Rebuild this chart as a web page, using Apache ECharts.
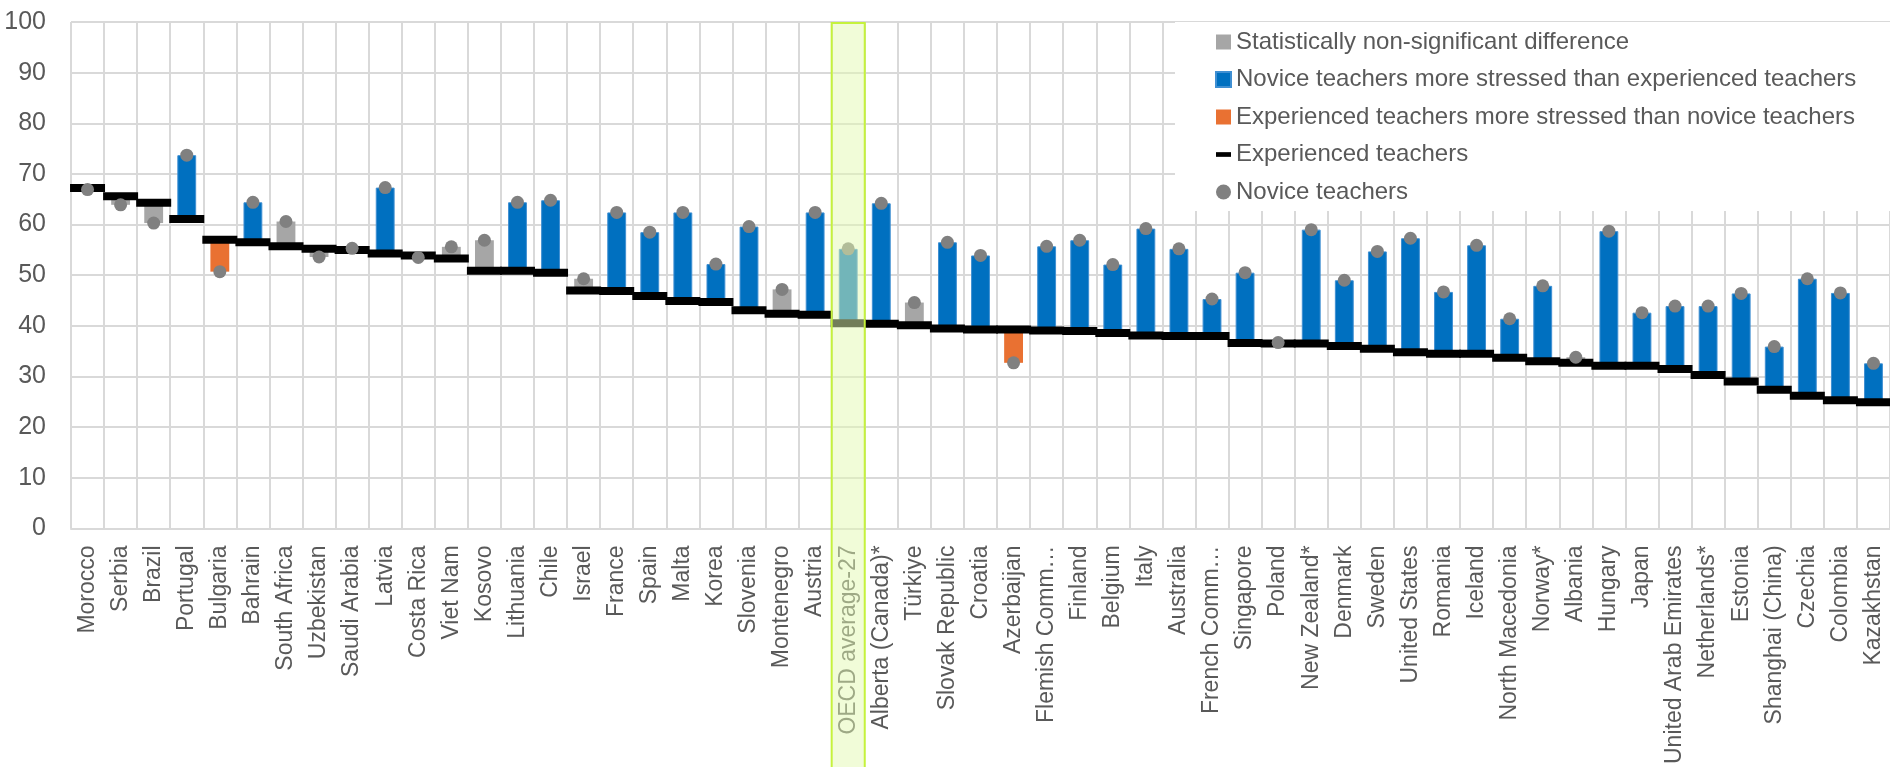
<!DOCTYPE html>
<html>
<head>
<meta charset="utf-8">
<script src="https://cdn.jsdelivr.net/npm/echarts@6/dist/echarts.min.js"></script>
<style>
  html, body { margin: 0; padding: 0; background: #fff; }
  #chart { width: 1890px; height: 767px; }
</style>
</head>
<body>
<div id="chart"></div>
<script>
const categories = ["Morocco","Serbia","Brazil","Portugal","Bulgaria","Bahrain","South Africa","Uzbekistan","Saudi Arabia","Latvia","Costa Rica","Viet Nam","Kosovo","Lithuania","Chile","Israel","France","Spain","Malta","Korea","Slovenia","Montenegro","Austria","OECD average-27","Alberta (Canada)*","Türkiye","Slovak Republic","Croatia","Azerbaijan","Flemish Comm…","Finland","Belgium","Italy","Australia","French Comm…","Singapore","Poland","New Zealand*","Denmark","Sweden","United States","Romania","Iceland","North Macedonia","Norway*","Albania","Hungary","Japan","United Arab Emirates","Netherlands*","Estonia","Shanghai (China)","Czechia","Colombia","Kazakhstan"];

const experienced = [67.2,65.6,64.3,61.1,57.0,56.5,55.7,55.2,55.0,54.3,53.9,53.3,50.9,50.9,50.5,47.0,46.9,45.9,44.9,44.7,43.1,42.4,42.2,40.5,40.4,40.1,39.5,39.3,39.3,39.1,39.0,38.6,38.1,38.0,38.0,36.6,36.5,36.5,36.0,35.5,34.8,34.5,34.5,33.7,33.0,32.7,32.1,32.1,31.5,30.3,29.0,27.4,26.2,25.3,24.9];

const novice = [66.9,63.9,60.3,73.7,50.7,64.4,60.6,53.6,55.3,67.3,53.5,55.6,56.9,64.4,64.8,49.3,62.4,58.5,62.4,52.2,59.6,47.2,62.4,55.2,64.2,44.6,56.5,53.9,32.7,55.7,56.9,52.1,59.2,55.2,45.3,50.5,36.7,59.0,49.0,54.7,57.3,46.7,55.9,41.4,47.9,33.8,58.7,42.6,43.9,43.9,46.4,35.9,49.3,46.5,32.6];

// ns = statistically non-significant, nov = novice more stressed, exp = experienced more stressed
const significance = ["ns","ns","ns","nov","exp","nov","ns","ns","ns","nov","ns","ns","ns","nov","nov","ns","nov","nov","nov","nov","nov","ns","nov","nov","nov","ns","nov","nov","exp","nov","nov","nov","nov","nov","nov","nov","ns","nov","nov","nov","nov","nov","nov","nov","nov","ns","nov","nov","nov","nov","nov","nov","nov","nov","nov"];

const legendNames = {
  ns: "Statistically non-significant difference",
  nov: "Novice teachers more stressed than experienced teachers",
  exp: "Experienced teachers more stressed than novice teachers",
  expLine: "Experienced teachers",
  novDot: "Novice teachers"
};

const highlightCategory = "OECD average-27";

const TXT = '#595959';
const FONT = "'Liberation Sans', Arial, sans-serif";

const base = categories.map((c, i) => Math.min(experienced[i], novice[i]));
function diffFor(code) {
  return categories.map((c, i) => significance[i] === code ? Math.abs(novice[i] - experienced[i]) : '-');
}

const chart = echarts.init(document.getElementById('chart'), null, { renderer: 'canvas' });

const option = {
  animation: false,
  backgroundColor: '#fff',
  grid: { left: 71, right: 0, top: 22, bottom: 236, containLabel: false },
  legend: {
    orient: 'vertical',
    left: 1175,
    top: 22,
    padding: [5, 40, 4, 40],
    backgroundColor: '#fff',
    itemWidth: 15,
    itemHeight: 15,
    itemGap: 7.5,
    textStyle: { fontFamily: FONT, fontSize: 24, color: TXT, lineHeight: 30 },
    data: [
      { name: legendNames.ns, icon: 'rect' },
      { name: legendNames.nov, icon: 'rect' },
      { name: legendNames.exp, icon: 'rect' },
      { name: legendNames.expLine, icon: 'path://M0,0h16v5h-16z' },
      { name: legendNames.novDot, icon: 'circle' }
    ],
    selectedMode: false
  },
  xAxis: {
    type: 'category',
    data: categories,
    boundaryGap: true,
    axisLine: { show: true, lineStyle: { color: '#D9D9D9', width: 2 } },
    axisTick: { show: false },
    splitLine: { show: true, interval: 0, lineStyle: { color: '#D9D9D9', width: 2 } },
    axisLabel: {
      interval: 0,
      rotate: 90,
      margin: 17,
      fontFamily: FONT,
      fontSize: 23,
      color: TXT
    }
  },
  yAxis: {
    type: 'value',
    min: 0,
    max: 100,
    interval: 10,
    axisLine: { show: false },
    axisTick: { show: false },
    splitLine: { show: true, lineStyle: { color: '#D9D9D9', width: 2 } },
    axisLabel: { margin: 25, fontFamily: FONT, fontSize: 25, color: TXT }
  },
  series: [
    {
      name: 'base', type: 'bar', stack: 'diff', data: base, barWidth: '57%',
      itemStyle: { color: 'rgba(0,0,0,0)' }, silent: true, z: 2
    },
    {
      name: legendNames.ns, type: 'bar', stack: 'diff', data: diffFor('ns'), barWidth: '57%',
      itemStyle: { color: '#A6A6A6' }, z: 2
    },
    {
      name: legendNames.nov, type: 'bar', stack: 'diff', data: diffFor('nov'), barWidth: '57%',
      itemStyle: { color: '#0070C0', borderColor: '#3F8FD2', borderWidth: 1 }, z: 2
    },
    {
      name: legendNames.exp, type: 'bar', stack: 'diff', data: diffFor('exp'), barWidth: '57%',
      itemStyle: { color: '#E97132' }, z: 2
    },
    {
      name: legendNames.expLine, type: 'scatter', data: experienced,
      symbol: 'rect', symbolSize: [35, 8],
      itemStyle: { color: '#000000', opacity: 1 }, z: 3
    },
    {
      name: legendNames.novDot, type: 'scatter', data: novice,
      symbol: 'circle', symbolSize: 13,
      itemStyle: { color: '#808080', opacity: 1 }, z: 4
    }
  ]
};

chart.setOption(option);

// Highlight box around the OECD average column, positioned from the axes
const idx = categories.indexOf(highlightCategory);
const cx = chart.convertToPixel({ xAxisIndex: 0 }, highlightCategory);
const cNext = chart.convertToPixel({ xAxisIndex: 0 }, categories[idx + 1]);
const band = cNext - cx;
const yTop = chart.convertToPixel({ yAxisIndex: 0 }, 100);
const H = chart.getHeight();
chart.setOption({
  graphic: [{
    type: 'rect',
    z: 100,
    zlevel: 0,
    silent: true,
    shape: { x: cx - band / 2, y: yTop + 1, width: band, height: H - yTop },
    style: { fill: 'rgba(228,250,178,0.5)', stroke: '#C5F23C', lineWidth: 2 }
  }]
});
</script>
</body>
</html>
